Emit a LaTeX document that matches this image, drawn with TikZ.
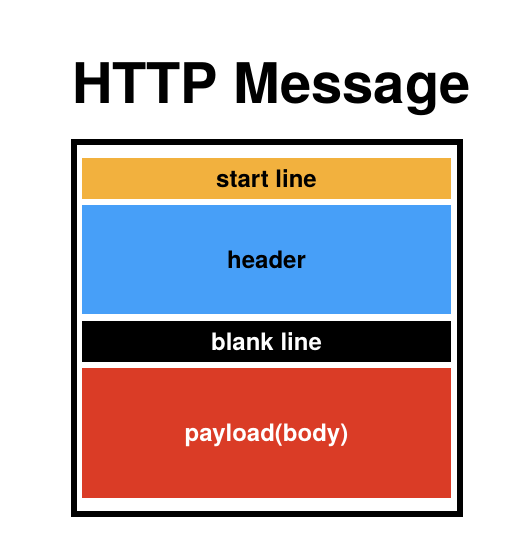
\documentclass[tikz,border=0pt]{standalone}
\usepackage{fontspec}
\setmainfont{TeX Gyre Heros}
\definecolor{startc}{HTML}{F2B13E}
\definecolor{headc}{HTML}{479FF8}
\definecolor{bodyc}{HTML}{DA3C26}
\begin{document}
\begin{tikzpicture}[x=1pt,y=-1pt,
  part/.style={draw=none,inner sep=0pt,outer sep=0pt,minimum width=369pt,
    font=\fontsize{24}{24}\selectfont\bfseries,text height=17.2pt,text depth=0pt},
  frame/.style={draw=black,line width=6pt,inner sep=0pt,minimum width=386pt,minimum height=372pt}]
\useasboundingbox[fill=white] (0,0) rectangle (526,560);
\node[anchor=base,inner sep=0pt,font=\fontsize{56}{56}\selectfont\bfseries] (title) at (271.5,103) {HTTP Message};
\node[frame] (frame) at (267,328) {};
\node[part,fill=startc,text=black,minimum height=41pt] (start) at (266.5,178.5) {start line};
\node[part,fill=headc,text=black,minimum height=109pt] (header) at (266.5,259.5) {header};
\node[part,fill=black,text=white,minimum height=41pt] (blank) at (266.5,341.5) {blank line};
\node[part,fill=bodyc,text=white,minimum height=130pt] (body) at (266.5,433) {payload(body)};
\end{tikzpicture}
\end{document}
